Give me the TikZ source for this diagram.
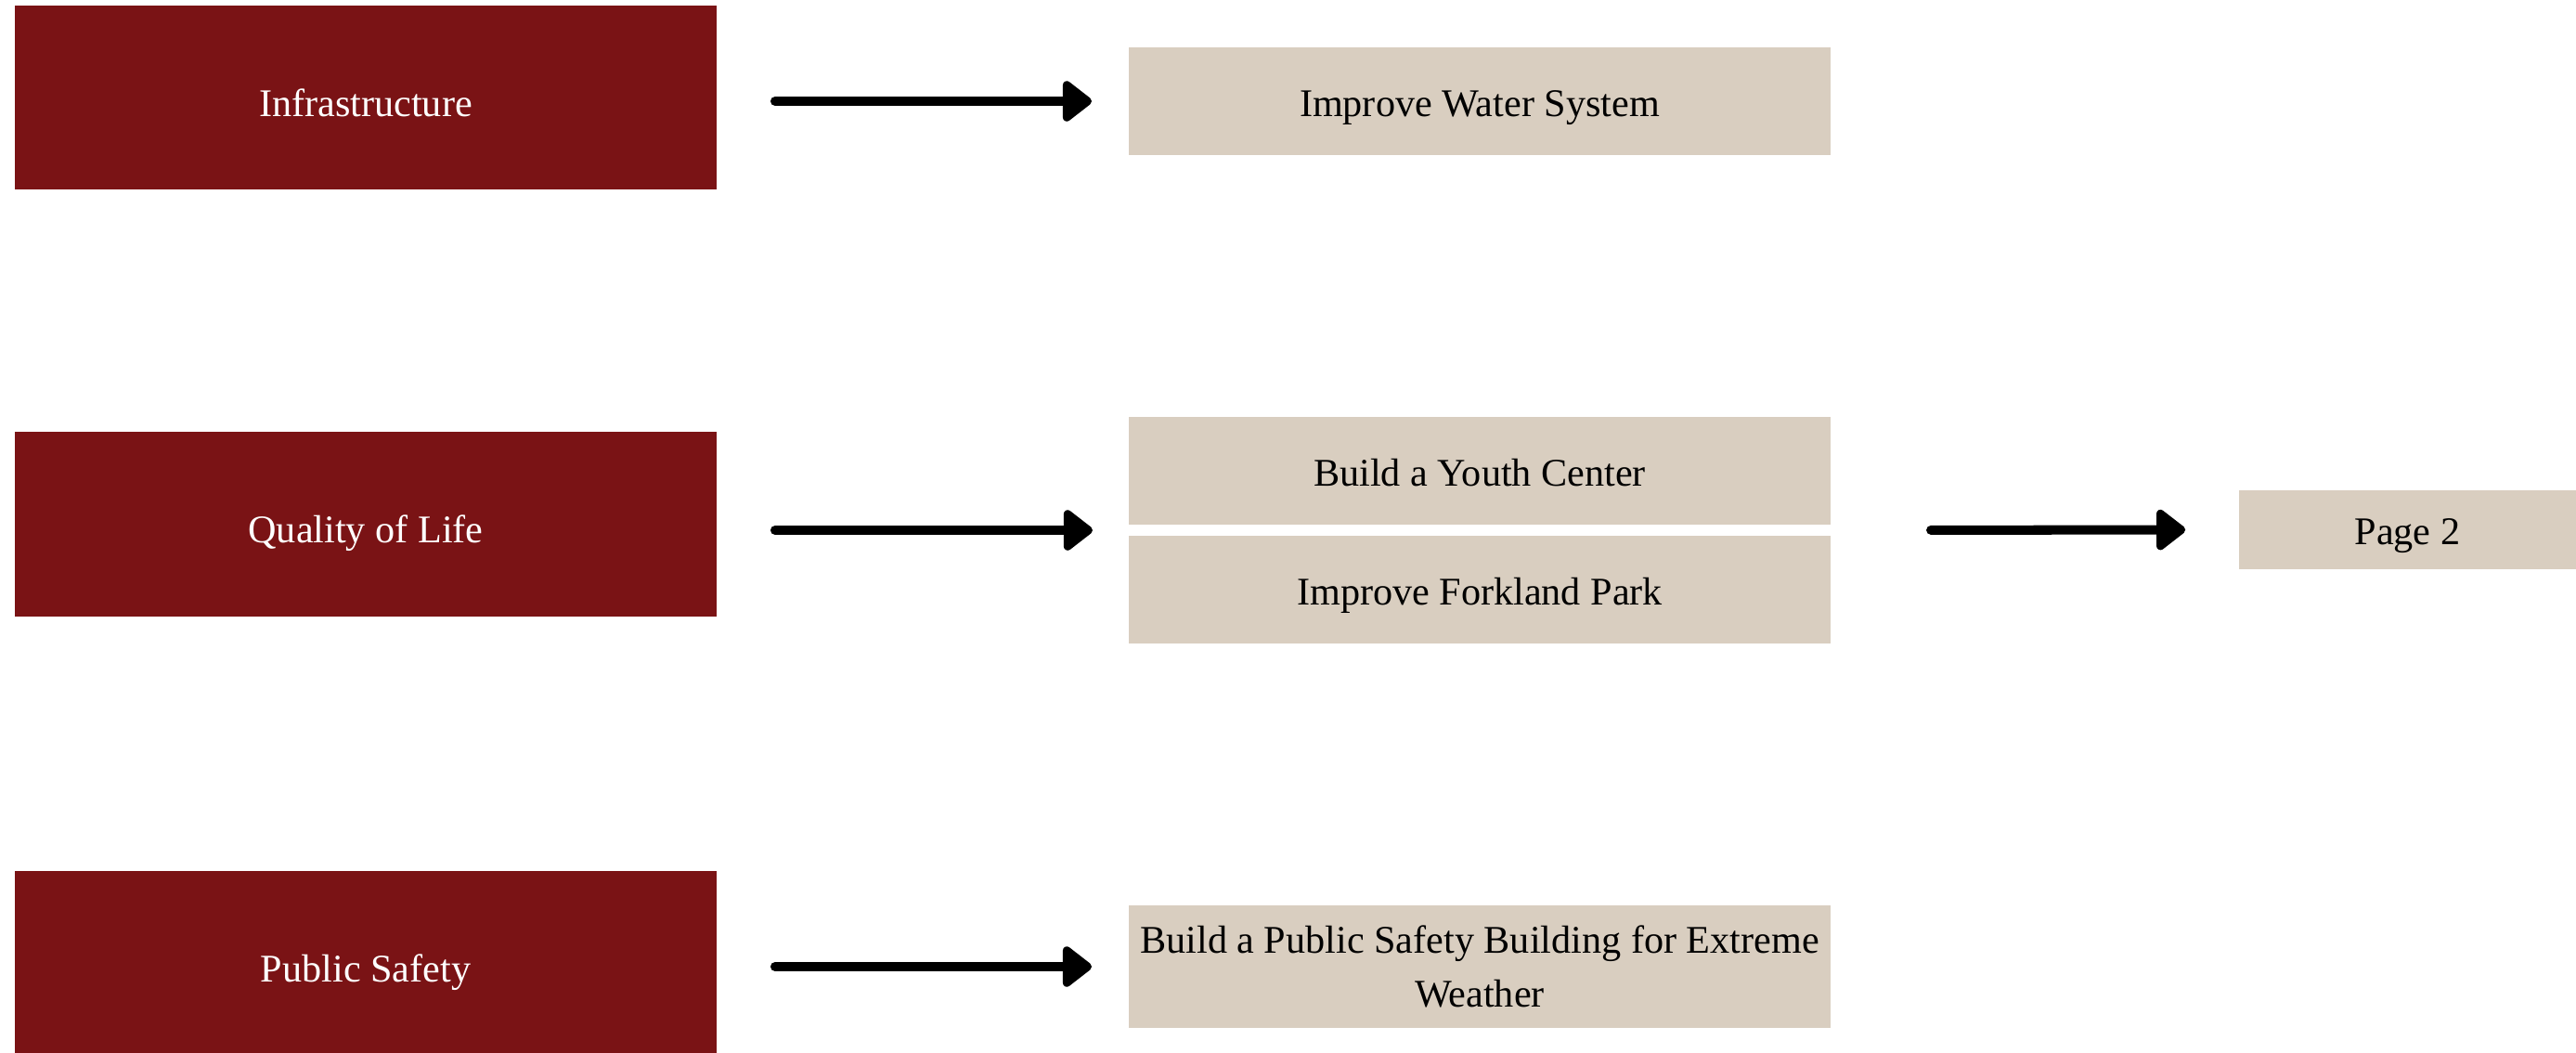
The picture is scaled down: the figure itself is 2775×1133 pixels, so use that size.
\documentclass[tikz,border=0pt]{standalone}
\usepackage{fontspec}
\setmainfont{Liberation Serif}
\usepackage{xcolor}
\usetikzlibrary{arrows.meta}
\definecolor{plumred}{HTML}{7A1315}
\definecolor{sand}{HTML}{D9CEC0}

\begin{document}
\begin{tikzpicture}[x=0.01cm, y=-0.01cm,
  goal/.style={fill=plumred, text=white, minimum width=7.56cm, minimum height=1.98cm, inner sep=0pt, text height=11.4pt, text depth=0pt, font=\fontsize{12}{16}\selectfont},
  project/.style={fill=sand, text=black, minimum width=7.56cm, minimum height=1.16cm, inner sep=0pt, align=center, font=\fontsize{12}{16.5}\selectfont},
  link/.style={line width=2.85pt, line cap=round, -{Triangle[length=3.4mm, width=5mm, round]}}]
\useasboundingbox (0, 0) rectangle (2775, 1133);
\node [goal] (infra) at (394, 105) {Infrastructure};
\node [goal] (quality) at (394, 564.5) {Quality of Life};
\node [goal] (safety) at (394, 1037) {Public Safety};
\node [project, text height=9.2pt, text depth=0pt] (water) at (1594, 109) {Improve Water System};
\node [project, text height=9.2pt, text depth=0pt] (youth) at (1594, 507) {Build a Youth Center};
\node [project, text height=9.2pt, text depth=0pt] (park) at (1594, 635) {Improve Forkland Park};
\node [project, minimum height=1.32cm] (shelter) at (1594, 1041) {Build a Public Safety Building for Extreme\\Weather};
\node [project, text height=9.2pt, text depth=0pt, minimum width=3.63cm, minimum height=0.85cm] (page) at (2593.5, 570.5) {Page 2};
\coordinate (qin) at (1216, 571);
\coordinate (qout) at (1972, 571);
\draw [link, shorten <=0.62cm, shorten >=0.39cm] (infra.east |- water.west) -- (water.west);
\draw [link, shorten <=0.62cm, shorten >=0.39cm] (quality.east |- qin) -- (qin);
\draw [link, shorten <=0.62cm, shorten >=0.39cm] (safety.east |- shelter.west) -- (shelter.west);
\draw [link, shorten <=1.08cm, shorten >=0.57cm] (qout) -- (page.west);
\end{tikzpicture}
\end{document}
